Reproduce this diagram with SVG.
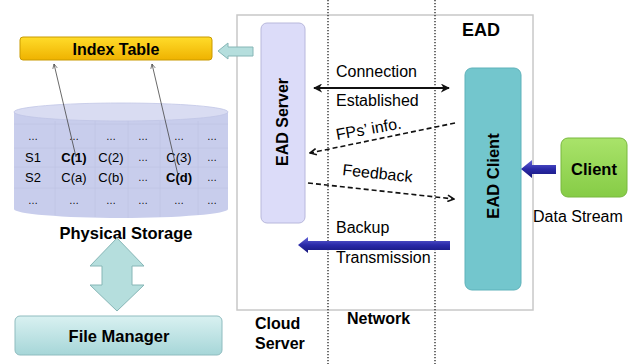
<svg xmlns="http://www.w3.org/2000/svg" width="641" height="364" viewBox="0 0 641 364">
<style>
text{font-family:"Liberation Sans",Arial,sans-serif;fill:#000}
.b{font-weight:bold}
.cell{font-size:13px;text-anchor:middle}
.dots{font-size:10px;text-anchor:middle;fill:#666}
.lbl{font-size:16px}
.grid{stroke:#bfc4e4;stroke-width:0.8;fill:none}
.dot{stroke:#222;stroke-width:1.3;stroke-dasharray:1.3,1.7}
.dash{stroke:#111;stroke-width:1.6;stroke-dasharray:5,3;fill:none}
.thin{stroke:#444;stroke-width:0.8;fill:none}
</style>
<defs>
<linearGradient id="gY" x1="0" y1="0" x2="0" y2="1"><stop offset="0" stop-color="#ffdc2a"/><stop offset="1" stop-color="#efb200"/></linearGradient>
<linearGradient id="gF" x1="0" y1="0" x2="0" y2="1"><stop offset="0" stop-color="#d9f1f1"/><stop offset="1" stop-color="#a6d6d8"/></linearGradient>
<linearGradient id="gG" x1="0" y1="0" x2="0" y2="1"><stop offset="0" stop-color="#a9e36a"/><stop offset="1" stop-color="#86cc46"/></linearGradient>
<linearGradient id="gB" x1="0" y1="0" x2="0" y2="1"><stop offset="0" stop-color="#6464d8"/><stop offset="0.5" stop-color="#2a2aa8"/><stop offset="1" stop-color="#17177a"/></linearGradient>
<marker id="open" viewBox="0 0 10 10" refX="9" refY="5" markerWidth="7" markerHeight="7" orient="auto"><path d="M1,1 L9,5 L1,9" fill="none" stroke="#444" stroke-width="1.2"/></marker>
<marker id="ah" viewBox="0 0 10 10" refX="9" refY="5" markerWidth="5" markerHeight="5" orient="auto-start-reverse"><path d="M0,0 L10,5 L0,10 L3,5 Z" fill="#111"/></marker>
<marker id="ahd" viewBox="0 0 10 10" refX="9" refY="5" markerWidth="5" markerHeight="5" orient="auto"><path d="M1,1 L9,5 L1,9" fill="none" stroke="#111" stroke-width="2"/></marker>
</defs>

<rect width="641" height="364" fill="#fff"/>

<g id="frame">
<rect x="237" y="15" width="296" height="295" fill="#fff" stroke="#c8c8c8" stroke-width="1.5"/>
<line class="dot" x1="328" y1="0" x2="328" y2="364"/>
<line class="dot" x1="435" y1="0" x2="435" y2="364"/>
<text class="b" x="462" y="36" font-size="18">EAD</text>
<text class="b" x="255" y="329" font-size="16">Cloud</text>
<text class="b" x="255" y="349" font-size="16">Server</text>
<text class="b" x="347" y="324" font-size="16">Network</text>
</g>

<g id="index-table">
<rect x="20" y="37" width="192" height="23" rx="3" fill="url(#gY)" stroke="#c99a00" stroke-width="1"/>
<text class="b" x="116" y="55" font-size="16" text-anchor="middle">Index Table</text>
</g>

<g id="physical-storage">
<path d="M14,112 L14,209 A107,9 0 0 0 228,209 L228,112 Z" fill="#c8cdec"/>
<ellipse cx="121" cy="112" rx="107" ry="9" fill="#d9dcf2" stroke="#c0c5e6" stroke-width="0.8"/>
<g class="grid">
<line x1="14" y1="124" x2="228" y2="124"/>
<line x1="14" y1="148" x2="228" y2="148"/>
<line x1="14" y1="167" x2="228" y2="167"/>
<line x1="14" y1="188" x2="228" y2="188"/>
<line x1="55" y1="121" x2="55" y2="215"/>
<line x1="95" y1="121" x2="95" y2="217"/>
<line x1="128" y1="121" x2="128" y2="218"/>
<line x1="160" y1="121" x2="160" y2="217"/>
<line x1="198" y1="121" x2="198" y2="215"/>
</g>
<g class="dots">
<text x="33" y="140">…</text><text x="74" y="140">…</text><text x="111" y="140">…</text><text x="143" y="140">…</text><text x="179" y="140">…</text><text x="212" y="140">…</text>
<text x="143" y="161">…</text><text x="212" y="161">…</text>
<text x="143" y="181">…</text><text x="212" y="181">…</text>
<text x="33" y="204">…</text><text x="74" y="204">…</text><text x="111" y="204">…</text><text x="143" y="204">…</text><text x="179" y="204">…</text><text x="212" y="204">…</text>
</g>
<g class="cell">
<text x="33" y="162">S1</text>
<text x="74" y="162" class="b">C(1)</text>
<text x="111" y="162">C(2)</text>
<text x="179" y="162">C(3)</text>
<text x="33" y="182">S2</text>
<text x="74" y="182">C(a)</text>
<text x="111" y="182">C(b)</text>
<text x="179" y="182" class="b">C(d)</text>
</g>
<text class="b" x="126" y="239" font-size="16.5" text-anchor="middle">Physical Storage</text>
</g>

<g id="file-manager">
<rect x="15" y="316" width="207" height="39" rx="5" fill="url(#gF)" stroke="#8fbcbf" stroke-width="1"/>
<text class="b" x="119" y="342" font-size="16.5" text-anchor="middle">File Manager</text>
</g>

<g id="ead-server">
<rect x="261" y="23" width="44" height="200" rx="6" fill="#dcdcf9" stroke="#b8b8dc" stroke-width="1"/>
<text class="b" font-size="16" text-anchor="middle" transform="translate(288,122) rotate(-90)">EAD Server</text>
</g>

<g id="ead-client">
<rect x="465" y="68" width="56" height="222" rx="7" fill="#73c6cd" stroke="#5fb2ba" stroke-width="1"/>
<text class="b" font-size="16.5" text-anchor="middle" transform="translate(499,176) rotate(-90)">EAD Client</text>
</g>

<g id="client">
<rect x="561" y="138" width="66" height="59" rx="7" fill="url(#gG)" stroke="#78b83e" stroke-width="1"/>
<text class="b" x="594" y="175" font-size="16.5" text-anchor="middle">Client</text>
<text x="533" y="222" font-size="16">Data Stream</text>
</g>

<g id="connectors">
<line class="thin" x1="76" y1="157" x2="54" y2="64" marker-end="url(#open)"/>
<line class="thin" x1="178" y1="175" x2="152" y2="64" marker-end="url(#open)"/>
<polygon points="218,51 228,43 228,47 253,47 253,56 228,56 228,59" fill="#b5dedd" stroke="#86b6b6" stroke-width="1"/>
<polygon points="117,238 144,266 132,266 132,285 144,285 117,311 90,285 102,285 102,266 90,266" fill="#b5dedd" stroke="#86b6b6" stroke-width="1"/>
<line x1="314" y1="88" x2="449" y2="88" stroke="#111" stroke-width="1.8" marker-start="url(#ah)" marker-end="url(#ah)"/>
<text class="lbl" x="336" y="77">Connection</text>
<text class="lbl" x="336" y="106">Established</text>
<line class="dash" x1="455" y1="123" x2="310" y2="153" marker-end="url(#ahd)"/>
<text class="lbl" transform="translate(337,140) rotate(-10)">FPs’ info.</text>
<line class="dash" x1="308" y1="183" x2="454" y2="199" marker-end="url(#ahd)"/>
<text class="lbl" transform="translate(342,175) rotate(6)">Feedback</text>
<polygon points="298,245 308,237 308,241 450,241 450,250 308,250 308,253" fill="url(#gB)"/>
<text class="lbl" x="336" y="233">Backup</text>
<text class="lbl" x="336" y="263">Transmission</text>
<polygon points="521,169 532,160 532,165 556,165 556,174 532,174 532,178" fill="url(#gB)"/>
</g>
</svg>
